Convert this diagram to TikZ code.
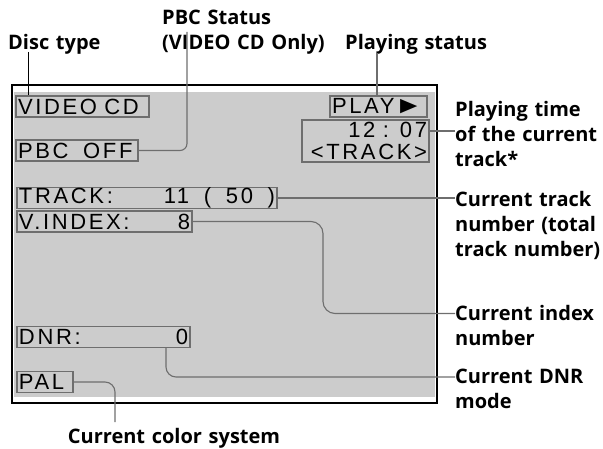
\documentclass[tikz,border=0pt]{standalone}
\usepackage{fontspec}
\setmainfont{Open Sans}
\newfontfamily\lcdfont[LetterSpace=12]{Liberation Sans}
\usepackage{graphicx}
\usepackage{tikz}
\usetikzlibrary{positioning, calc}
\usepackage{xcolor}
\definecolor{lcdgray}{RGB}{204,204,204}
\definecolor{boxgray}{RGB}{110,110,110}

\tikzset{
  lcdbox/.style={draw=boxgray, line width=1.3pt, inner xsep=2pt, inner ysep=0pt,
    minimum height=21pt, font=\lcdfont\fontsize{22}{22}\selectfont},
  callout/.style={font=\bfseries\fontsize{20}{25}\selectfont, align=left,
    text width=150pt, inner sep=0pt, anchor=base west},
  leader/.style={draw=boxgray, line width=1.1pt}
}

\begin{document}
\begin{tikzpicture}[x=1pt, y=-1pt]
    \useasboundingbox (0,0) rectangle (603,449);
    % Screen
    \fill[lcdgray] (14,92) rectangle (435,397);
    \draw[line width=1.2pt] (12,85) rectangle (437,403);

    % Display items
    \node[lcdbox, text width=93pt] (play) at (378.5,106.5) {\mbox{PLAY\scalebox{1.3}[1.1]{►}}};
    \node[lcdbox, text width=129pt] (disc) at (82.5,106.5) {VIDEO CD};
    \node[lcdbox, text width=123pt, align=right, minimum height=42pt] (time) at (365.5,141) {12 : 07\\<TRACK>};
    \node[lcdbox, text width=118pt] (pbcoff) at (77,150.5) {PBC\ \ OFF};
    \node[lcdbox, text width=256pt] (track) at (147,198) {TRACK:\hfill 11\ \ (\ \ 50\ \ )};
    \node[lcdbox, text width=171pt] (vindex) at (104.5,221.5) {V.INDEX:\hfill 8};
    \node[lcdbox, text width=169pt] (dnr) at (103.5,337) {DNR:\hfill 0};
    \node[lcdbox, text width=52pt] (pal) at (45,382) {PAL};

    % Callouts (placed at the baseline of their first line)
    \node[callout] (disclbl) at (8,50) {Disc type};
    \node[callout, text width=175pt] (pbclbl) at (162,25) {PBC Status\\(VIDEO CD Only)};
    \node[callout] (playlbl) at (345,50) {Playing status};
    \node[callout] (timelbl) at (455,117) {Playing time\\of the current\\track*};
    \node[callout] (tracklbl) at (455,207) {Current track\\number (total\\track number)};
    \node[callout] (idxlbl) at (455,320) {Current index\\number};
    \node[callout] (dnrlbl) at (455,383) {Current DNR\\mode};
    \node[callout, anchor=base, align=center, text width=230pt] (colorlbl) at (174,443) {Current color system};

    % Leader ends and bends
    \coordinate (disctip) at (28,52);
    \coordinate (pbctip) at (187,32);
    \coordinate (playtip) at (377,53);
    \coordinate (timetip) at ($(timelbl.base west)+(0,14)$);
    \coordinate (idxbend) at (323,313.5);
    \coordinate (dnrbend) at (166,377);
    \coordinate (paltip) at (115,422);

    % Leaders
    \draw[leader, draw=black, line width=0.9pt] (disctip) -- (disctip |- disc.north);
    \draw[leader, rounded corners=7pt] (pbcoff.east) -| (pbctip);
    \draw[leader] (playtip) -- (playtip |- play.north);
    \draw[leader] (timetip -| time.east) -- (timetip);
    \draw[leader] (track.east) -- (track.east -| tracklbl.base west);
    \draw[leader, rounded corners=12pt] (vindex.east) -| (idxbend) -- (idxbend -| idxlbl.base west);
    \draw[leader, rounded corners=10pt] (dnrbend |- dnr.south) -- (dnrbend) -- (dnrbend -| dnrlbl.base west);
    \draw[leader, rounded corners=10pt] (pal.east) -| (paltip);
\end{tikzpicture}
\end{document}
